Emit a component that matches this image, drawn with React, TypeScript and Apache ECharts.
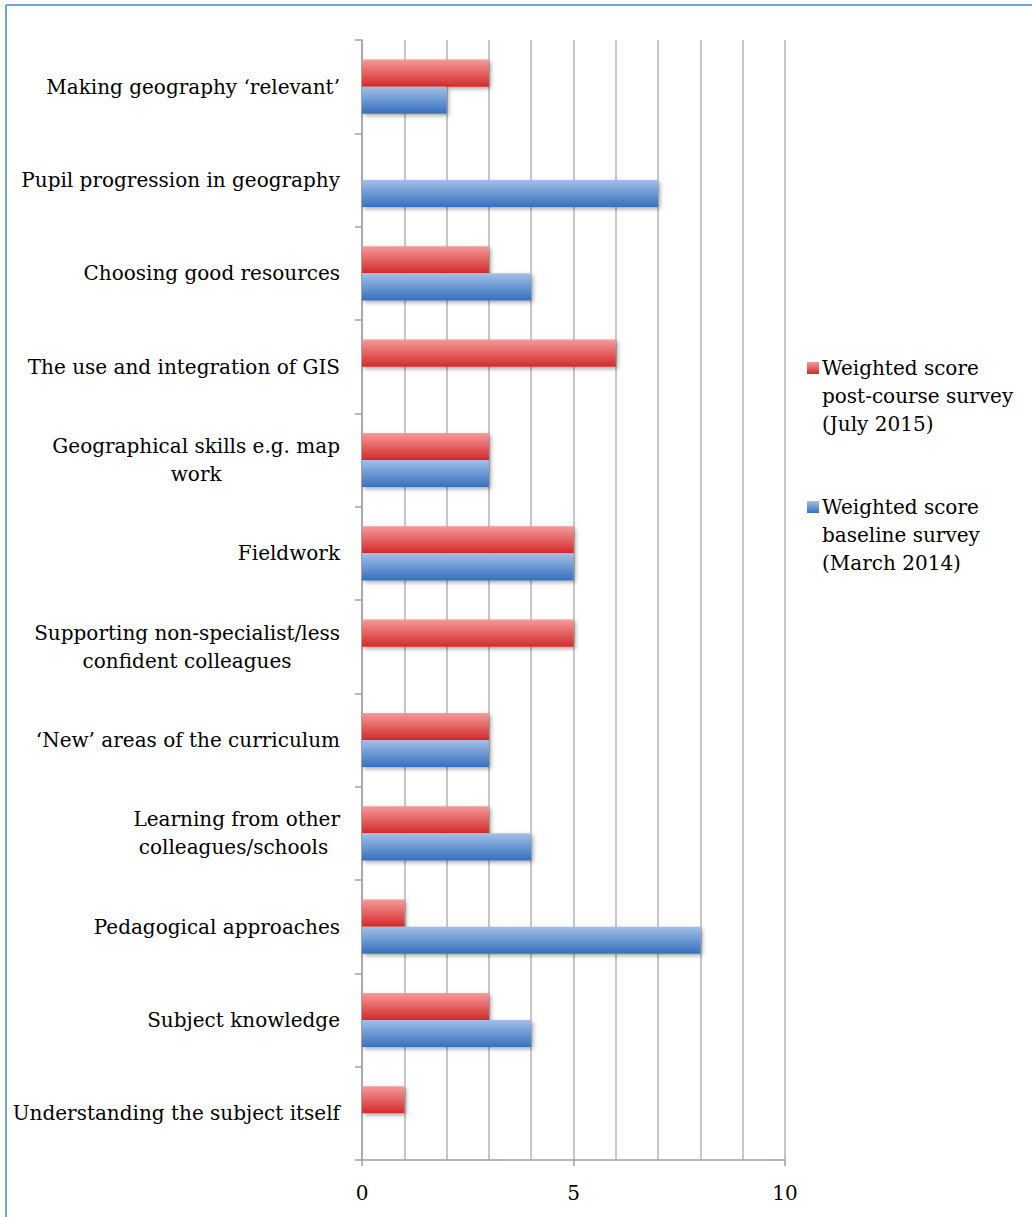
import React, { useEffect, useRef } from "react";
import * as echarts from "echarts";

const categories = [
  "Making geography \u2018relevant\u2019",
  "Pupil progression in geography",
  "Choosing good resources",
  "The use and integration of GIS",
  "Geographical skills e.g. map\nwork",
  "Fieldwork",
  "Supporting non-specialist/less\nconfident colleagues",
  "\u2018New\u2019 areas of the curriculum",
  "Learning from other\ncolleagues/schools ",
  "Pedagogical approaches",
  "Subject knowledge",
  "Understanding the subject itself",
];

const postCourse = [3, 0, 3, 6, 3, 5, 5, 3, 3, 1, 3, 1];
const baseline = [2, 7, 4, 0, 3, 5, 0, 3, 4, 8, 4, 0];

const seriesNames = [
  "Weighted score\npost-course survey\n(July 2015)",
  "Weighted score\nbaseline survey\n(March 2014)",
];

const xTicks = [0, 5, 10];

const FONT = "'DejaVu Serif', 'Liberation Serif', serif";
const FS = 20;

const RED = ["#f59a9b", "#d42a2a"];
const BLUE = ["#a2bfe6", "#3670bf"];

const grad = (c: string[], end = 1) =>
  new echarts.graphic.LinearGradient(0, 0, 0, 1, [
    { offset: 0, color: c[0] },
    { offset: end, color: c[1] },
  ]);

const LEGEND_H = 68;
const ICON = "path://M0,0L12,0L12,12L0,12Z M0,67.9L0.1,67.9L0.1,68L0,68Z";

export default function App() {
  const ref = useRef<HTMLDivElement>(null);
  useEffect(() => {
    if (!ref.current) return;
    const chart = echarts.init(ref.current, null, { renderer: "svg" });
    const toData = (arr: number[]) => arr.map((v) => (v === 0 ? null : v));
    const barStyle = (c: any) => ({
      color: c,
      shadowBlur: 4,
      shadowOffsetX: 2,
      shadowOffsetY: 2,
      shadowColor: "rgba(0,0,0,0.35)",
    });
    const legendBase = (name: string, colors: string[], top: number) => ({
      orient: "vertical",
      left: 802,
      top,
      itemWidth: 12,
      itemHeight: LEGEND_H,
      data: [
        {
          name,
          icon: ICON,
          itemStyle: { color: grad(colors, 12 / LEGEND_H), shadowBlur: 0 },
        },
      ],
      textStyle: {
        fontFamily: FONT,
        fontSize: FS,
        lineHeight: 28,
        color: "#000",
        padding: [0, 0, 0, -2],
      },
    });
    chart.setOption({
      animation: false,
      textStyle: { fontFamily: FONT, color: "#000" },
      graphic: [
        {
          type: "line",
          shape: { x1: 6, y1: 5, x2: 1032, y2: 5 },
          style: { stroke: "#6fa6de", lineWidth: 2 },
        },
        {
          type: "line",
          shape: { x1: 6, y1: 5, x2: 6, y2: 1217 },
          style: { stroke: "#6fa6de", lineWidth: 2 },
        },
      ],
      grid: {
        left: 362,
        right: 247,
        top: 40,
        bottom: 57,
        containLabel: false,
        outerBoundsMode: "none",
      },
      legend: [
        legendBase(seriesNames[0], RED, 349),
        legendBase(seriesNames[1], BLUE, 488),
      ],
      xAxis: {
        type: "value",
        min: 0,
        max: 10,
        interval: 5,
        axisLine: { show: true, lineStyle: { color: "#a0a0a0", width: 1.5 } },
        axisTick: { show: true, length: 6, lineStyle: { color: "#a0a0a0", width: 1.5 } },
        axisLabel: {
          fontFamily: FONT,
          fontSize: FS,
          color: "#000",
          margin: 23,
          formatter: (v: number) => (xTicks.includes(v) ? String(v) : ""),
        },
        splitLine: { show: true, lineStyle: { color: "#b4b4b4", width: 1.5 } },
        minorTick: { show: false, splitNumber: 5 },
        minorSplitLine: { show: true, lineStyle: { color: "#b4b4b4", width: 1.5 } },
      },
      yAxis: {
        type: "category",
        inverse: true,
        data: categories,
        axisLine: { show: true, lineStyle: { color: "#a0a0a0", width: 1.5 } },
        axisTick: { show: true, length: 7, lineStyle: { color: "#a0a0a0", width: 1.5 } },
        axisLabel: {
          margin: 22,
          fontFamily: FONT,
          fontSize: FS,
          color: "#000",
          formatter: (v: string) =>
            v
              .split("\n")
              .map((l) => "{c|" + l + "}")
              .join("\n"),
          rich: {
            c: {
              align: "center",
              fontFamily: FONT,
              fontSize: FS,
              lineHeight: 28,
              color: "#000",
            },
          },
        },
      },
      series: [
        {
          name: seriesNames[0],
          type: "bar",
          data: toData(postCourse),
          barGap: "0%",
          barCategoryGap: "42%",
          itemStyle: barStyle(grad(RED)),
        },
        {
          name: seriesNames[1],
          type: "bar",
          data: toData(baseline),
          barGap: "0%",
          barCategoryGap: "42%",
          itemStyle: barStyle(grad(BLUE)),
        },
      ],
    });
    return () => chart.dispose();
  }, []);
  return (
    <div
      ref={ref}
      style={{ position: "absolute", left: 0, top: 0, width: 1032, height: 1217 }}
    />
  );
}
